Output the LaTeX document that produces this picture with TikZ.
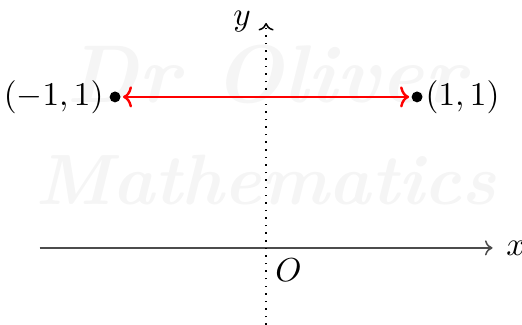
\documentclass[tikz,border=0pt]{standalone}
\usetikzlibrary{arrows.meta}
\begin{document}
\begin{tikzpicture}[x=1.75cm,y=1.75cm,
  dot/.style={circle,fill=black,inner sep=0pt,minimum size=3.6pt},
  axisline/.style={black!70,line width=0.5pt,-{To[length=2.5pt,width=5pt]}},
  watermark/.style={text=black!4,font=\bfseries\itshape},
  lab/.style={font=\fontsize{10.5}{12}\selectfont}]
\useasboundingbox (-1.762,-0.51) rectangle (1.695,1.642);
\node[watermark,font=\fontsize{27}{27}\selectfont\bfseries\itshape] (wm1) at (0,1.15) {Dr Oliver};
\node[watermark,font=\fontsize{23.5}{24}\selectfont\bfseries\itshape] (wm2) at (0,0.45) {Mathematics};
\coordinate (O) at (0,0);
\coordinate (xl) at (-1.5,0);
\coordinate (xr) at (1.5,0);
\coordinate (yb) at (0,-0.51);
\coordinate (yt) at (0,1.49);
\draw[axisline] (xl) -- (xr);
\draw[dotted,line width=0.5pt,-{To[length=2.5pt,width=5pt]}] (yb) -- (yt);
\node[lab,anchor=west,xshift=1pt] (xlab) at (xr) {$x$};
\node[lab,anchor=east,xshift=-1.5pt,yshift=0.5pt] (ylab) at (yt) {$y$};
\node[lab,anchor=north west,xshift=-0.5pt] (olab) at (O) {$O$};
\node[dot] (A) at (-1,1) {};
\node[dot] (B) at (1,1) {};
\node[lab,anchor=east,xshift=-0.3pt] (alab) at (A) {$(-1,1)$};
\node[lab,anchor=west,xshift=-0.7pt] (blab) at (B) {$(1,1)$};
\draw[red,line width=0.8pt,{To[length=3pt,width=7pt]}-{To[length=3pt,width=7pt]},shorten <=0.6pt,shorten >=0.6pt] (A) -- (B);
\end{tikzpicture}
\end{document}
